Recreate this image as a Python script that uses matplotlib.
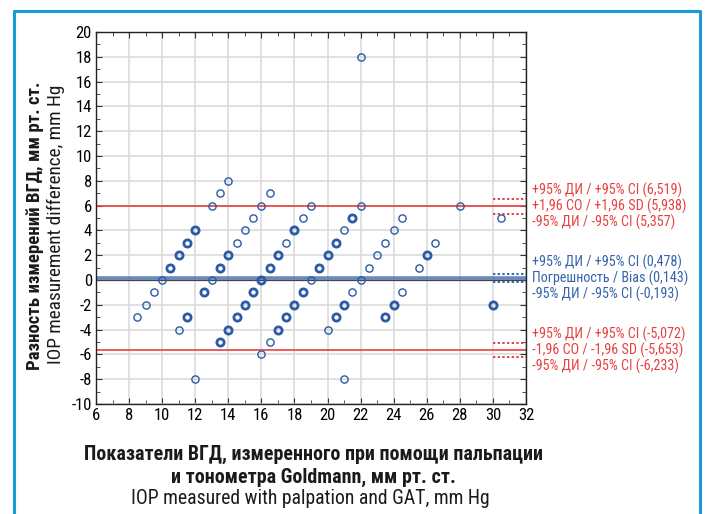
import matplotlib
matplotlib.use("Agg")
import matplotlib.pyplot as plt
from matplotlib import font_manager
from matplotlib.ticker import MultipleLocator

# look for a narrow sans face, the original uses a condensed font
names = {f.name for f in font_manager.fontManager.ttflist}
narrow = [n for n in ['Liberation Sans Narrow', 'Roboto Condensed', 'Open Sans Condensed',
                      'DejaVu Sans Condensed', 'Noto Sans Condensed'] if n in names]
cond_stretch = [f.name for f in font_manager.fontManager.ttflist
                if f.stretch in ('condensed', 'semi-condensed', 'extra-condensed')]
plt.rcParams['font.family'] = narrow + ['Liberation Sans', 'DejaVu Sans']
plt.rcParams['axes.unicode_minus'] = False
use_stretch = (not narrow) and ('Liberation Sans' in cond_stretch or 'DejaVu Sans' in cond_stretch)
if use_stretch:
    fam = 'Liberation Sans' if 'Liberation Sans' in cond_stretch else 'DejaVu Sans'
    plt.rcParams['font.family'] = [fam]
    plt.rcParams['font.stretch'] = 'condensed'
narrow_ok = bool(narrow) or use_stretch

# Bland-Altman points: mean of the two methods, difference, how many overlap
x_mean = [22,
          14,
          13.5, 16.5,
          13, 16, 19, 22, 28,
          15.5, 18.5, 21.5, 24.5, 30.5,
          12, 15, 18, 21, 24,
          11.5, 14.5, 17.5, 20.5, 23.5, 26.5,
          11, 14, 17, 20, 23, 26,
          10.5, 13.5, 16.5, 19.5, 22.5, 25.5,
          10, 13, 16, 19, 22,
          9.5, 12.5, 15.5, 18.5, 21.5, 24.5,
          9, 15, 18, 21, 24, 30,
          8.5, 11.5, 14.5, 17.5, 20.5, 23.5,
          11, 14, 17, 20,
          13.5, 16.5,
          16,
          12, 21]
y_diff = [18,
          8,
          7, 7,
          6, 6, 6, 6, 6,
          5, 5, 5, 5, 5,
          4, 4, 4, 4, 4,
          3, 3, 3, 3, 3, 3,
          2, 2, 2, 2, 2, 2,
          1, 1, 1, 1, 1, 1,
          0, 0, 0, 0, 0,
          -1, -1, -1, -1, -1, -1,
          -2, -2, -2, -2, -2, -2,
          -3, -3, -3, -3, -3, -3,
          -4, -4, -4, -4,
          -5, -5,
          -6,
          -8, -8]
n_obs = [1,
         1,
         1, 1,
         1, 1, 1, 1, 1,
         1, 1, 2, 1, 1,
         2, 1, 2, 1, 1,
         2, 1, 1, 2, 1, 1,
         2, 2, 2, 2, 1, 2,
         2, 2, 2, 2, 1, 1,
         1, 1, 2, 1, 1,
         1, 2, 2, 2, 1, 1,
         1, 2, 2, 2, 2, 2,
         1, 2, 2, 2, 2, 2,
         1, 2, 2, 1,
         2, 1,
         1,
         1, 1]

bias = 0.143
bias_ci = [0.478, -0.193]
upper_loa = 5.938
upper_ci = [6.519, 5.357]
lower_loa = -5.653
lower_ci = [-5.072, -6.233]

red = '#e8403f'
blue = '#3563ad'
mark = '#2b5aa8'

fig = plt.figure(figsize=(7.05, 5.14), dpi=100)
ax = fig.add_axes([0.1362, 0.2140, 0.6099, 0.7237])

ax.set_xlim(6, 32)
ax.set_ylim(-10, 20)
ax.xaxis.set_major_locator(MultipleLocator(2))
ax.xaxis.set_minor_locator(MultipleLocator(1))
ax.yaxis.set_major_locator(MultipleLocator(2))
ax.yaxis.set_minor_locator(MultipleLocator(1))
ax.grid(True, which='major', color='#d8d8d8', linewidth=1.1, zorder=0)
ax.tick_params(which='both', direction='in', top=True, right=True,
               labelsize=12 if narrow_ok else 11, color='#333333', pad=3)
ax.tick_params(which='major', length=4)
ax.tick_params(which='minor', length=3)
for s in ax.spines.values():
    s.set_color('#222222')
    s.set_linewidth(1.0)

# reference lines
ax.axhline(upper_loa, color=red, lw=1.4, alpha=0.85, zorder=2)
ax.axhline(lower_loa, color=red, lw=1.4, alpha=0.85, zorder=2)
ax.axhline(bias, color=blue, lw=2.6, alpha=0.75, zorder=2)
ax.axhline(0, color='#444444', lw=0.9, zorder=2)
for v in upper_ci + lower_ci:
    ax.plot([30, 32], [v, v], color=red, lw=1.4, ls=(0, (1.2, 1.2)), zorder=2)
for v in bias_ci:
    ax.plot([30, 32], [v, v], color=blue, lw=1.4, ls=(0, (1.2, 1.2)), zorder=2)

# points, overlapping observations drawn heavier
for xv, yv, n in zip(x_mean, y_diff, n_obs):
    ax.plot(xv, yv, 'o', ms=5.2, mfc='none', mec=mark,
            mew=1.0 if n == 1 else 2.0, zorder=3)

# labels at right
fs = 10.2 if narrow_ok else 8.8
def group(center, vals, lines, color):
    for i, (txt, v) in enumerate(zip(lines, vals)):
        ax.annotate('%s (%s)' % (txt, ('%.3f' % v).replace('.', ',')),
                    xy=(1.0, center), xycoords=('axes fraction', 'data'),
                    xytext=(4.5, 11.5 * (1 - i)), textcoords='offset points',
                    va='center', ha='left', fontsize=fs, color=color,
                    annotation_clip=False)

group(upper_loa, [upper_ci[0], upper_loa, upper_ci[1]],
      ['+95% ДИ / +95% CI', '+1,96 СО / +1,96 SD', '-95% ДИ / -95% CI'], red)
group(bias, [bias_ci[0], bias, bias_ci[1]],
      ['+95% ДИ / +95% CI', 'Погрешность / Bias', '-95% ДИ / -95% CI'], blue)
group(lower_loa, [lower_ci[0], lower_loa, lower_ci[1]],
      ['+95% ДИ / +95% CI', '-1,96 СО / -1,96 SD', '-95% ДИ / -95% CI'], red)

# axis titles
tb = 13.5 if narrow_ok else 12.3
tn = 13.9 if narrow_ok else 11.3
tbx = 14.4 if narrow_ok else 12.3
tnx = 14.2 if narrow_ok else 11.3
fig.text(35 / 705, 1 - 226 / 514, 'Разность измерений ВГД, мм рт. ст.', rotation=90,
         ha='center', va='center', fontsize=tb, fontweight='bold', color='#1a1a1a')
fig.text(56 / 705, 1 - 224 / 514, 'IOP measurement difference, mm Hg', rotation=90,
         ha='center', va='center', fontsize=tn, color='#1a1a1a')
fig.text(313 / 705, 1 - 454 / 514, 'Показатели ВГД, измеренного при помощи пальпации',
         ha='center', va='center', fontsize=tbx, fontweight='bold', color='#1a1a1a')
fig.text(313 / 705, 1 - 477 / 514, 'и тонометра Goldmann, мм рт. ст.',
         ha='center', va='center', fontsize=tbx, fontweight='bold', color='#1a1a1a')
fig.text(310 / 705, 1 - 498 / 514, 'IOP measured with palpation and GAT, mm Hg',
         ha='center', va='center', fontsize=tnx, color='#1a1a1a')

# blue frame of the figure
fig.add_artist(plt.Line2D([14 / 705, 14 / 705, 700 / 705, 700 / 705],
                          [0, 1 - 11 / 514, 1 - 11 / 514, 0],
                          transform=fig.transFigure, color='#1a9bd4', lw=2.2))

fig.savefig('out.png', dpi=100)
